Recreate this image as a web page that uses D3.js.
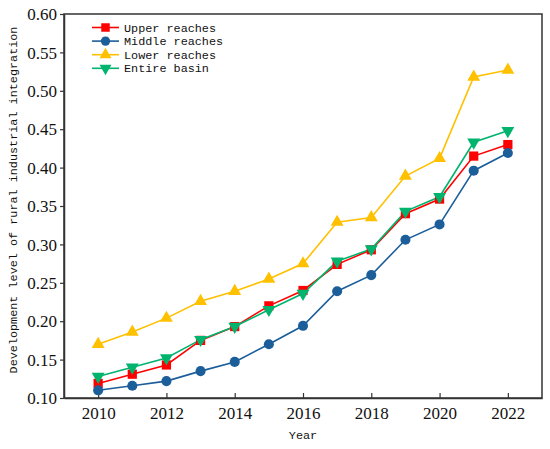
<!DOCTYPE html>
<html lang="en">
<head>
    <meta charset="UTF-8">
    <title>Rural industrial integration</title>
    <script src="https://d3js.org/d3.v7.min.js"></script>
    <style>
        * { margin: 0; padding: 0; }
        body { background: #fff; }
        .tick text { font-family: "Liberation Serif", "Times New Roman", serif; font-size: 17px; fill: #111; }
        .mono { font-family: "Liberation Mono", "DejaVu Sans Mono", monospace; font-size: 11.8px; fill: #111; }
    </style>
</head>
<body>
<script>
    var years = [2010, 2011, 2012, 2013, 2014, 2015, 2016, 2017, 2018, 2019, 2020, 2021, 2022];
    var upper = [0.119, 0.131, 0.143, 0.175, 0.193, 0.220, 0.240, 0.274, 0.293, 0.340, 0.359, 0.415, 0.430];
    var middle = [0.110, 0.116, 0.122, 0.135, 0.147, 0.170, 0.194, 0.239, 0.260, 0.306, 0.326, 0.396, 0.419];
    var lower = [0.170, 0.186, 0.204, 0.226, 0.239, 0.255, 0.275, 0.329, 0.335, 0.389, 0.412, 0.518, 0.527];
    var entire = [0.128, 0.140, 0.152, 0.176, 0.193, 0.215, 0.236, 0.278, 0.294, 0.343, 0.362, 0.433, 0.448];
    var xTicks = [2010, 2012, 2014, 2016, 2018, 2020, 2022];
    var yTicks = [0.10, 0.15, 0.20, 0.25, 0.30, 0.35, 0.40, 0.45, 0.50, 0.55, 0.60];

    var series = [
        { name: "Upper reaches", values: upper, color: "#ff0000", symbol: d3.symbolSquare, size: 85, rot: 0 },
        { name: "Middle reaches", values: middle, color: "#1b5e9a", symbol: d3.symbolCircle, size: 80, rot: 0 },
        { name: "Lower reaches", values: lower, color: "#ffc000", symbol: d3.symbolTriangle, size: 72, rot: 0 },
        { name: "Entire basin", values: entire, color: "#00b46e", symbol: d3.symbolTriangle, size: 72, rot: 180 }
    ];

    var W = 550, H = 449;
    var m = { left: 64, top: 14, right: 8, bottom: 51 };
    var iw = W - m.left - m.right, ih = H - m.top - m.bottom;

    var svg = d3.select("body").append("svg")
        .attr("width", W)
        .attr("height", H);

    var g = svg.append("g").attr("transform", "translate(" + m.left + "," + m.top + ")");

    var x = d3.scaleLinear().domain([2009, 2023]).range([0, iw]);
    var y = d3.scaleLinear().domain([0.10, 0.60]).range([ih, 0]);

    // frame
    g.append("rect")
        .attr("width", iw)
        .attr("height", ih)
        .attr("fill", "none")
        .attr("stroke", "#333")
        .attr("stroke-width", 1.5);

    // axes
    var xAxis = g.append("g")
        .attr("transform", "translate(0," + ih + ")")
        .call(d3.axisBottom(x).tickValues(xTicks).tickFormat(d3.format("d")).tickSizeInner(-5).tickSizeOuter(0).tickPadding(9));
    var yAxis = g.append("g")
        .call(d3.axisLeft(y).tickValues(yTicks).tickFormat(d3.format(".2f")).tickSizeInner(4).tickSizeOuter(0).tickPadding(3));
    [xAxis, yAxis].forEach(function (a) {
        a.select(".domain").attr("stroke", "#333").attr("stroke-width", 1.5);
        a.selectAll(".tick line").attr("stroke", "#333").attr("stroke-width", 1.2);
    });
    yAxis.selectAll(".tick text").attr("dy", "0.34em");

    // lines and markers
    var line = d3.line()
        .x(function (d, i) { return x(years[i]); })
        .y(function (d) { return y(d); });

    series.forEach(function (s) {
        g.append("path")
            .datum(s.values)
            .attr("fill", "none")
            .attr("stroke", s.color)
            .attr("stroke-width", 1.6)
            .attr("d", line);
    });
    series.forEach(function (s) {
        g.selectAll(null)
            .data(s.values)
            .enter()
            .append("path")
            .attr("d", d3.symbol().type(s.symbol).size(s.size))
            .attr("fill", s.color)
            .attr("transform", function (d, i) {
                return "translate(" + x(years[i]) + "," + y(d) + ") rotate(" + s.rot + ")";
            });
    });

    // legend
    var lg = svg.append("g").attr("transform", "translate(92,27.5)");
    series.forEach(function (s, i) {
        var row = lg.append("g").attr("transform", "translate(0," + (i * 13.6) + ")");
        row.append("line")
            .attr("x1", 0).attr("x2", 27)
            .attr("stroke", s.color)
            .attr("stroke-width", 1.6);
        row.append("path")
            .attr("d", d3.symbol().type(s.symbol).size(s.size * 0.85))
            .attr("fill", s.color)
            .attr("transform", "translate(13.5,0) rotate(" + s.rot + ")");
        row.append("text")
            .attr("class", "mono")
            .attr("x", 32)
            .attr("dy", "0.35em")
            .text(s.name);
    });

    // axis titles
    svg.append("text")
        .attr("class", "mono")
        .attr("text-anchor", "middle")
        .attr("x", 303)
        .attr("y", 439)
        .text("Year");

    svg.append("text")
        .attr("class", "mono")
        .attr("text-anchor", "middle")
        .attr("transform", "translate(17,200) rotate(-90)")
        .text("Development level of rural industrial integration");
</script>
</body>
</html>
